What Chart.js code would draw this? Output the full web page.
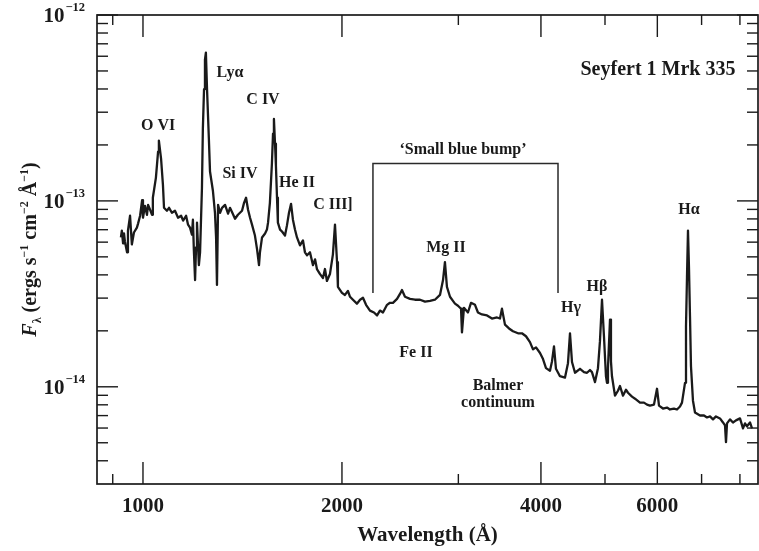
<!DOCTYPE html>
<html>
<head>
<meta charset="utf-8">
<script src="https://cdn.jsdelivr.net/npm/chart.js@4.4.0/dist/chart.umd.min.js"></script>
<style>
html,body{margin:0;padding:0;background:#fff;}
#wrap{width:759px;height:551px;position:relative;}
</style>
</head>
<body>
<div id="wrap"><canvas id="c"></canvas></div>
<script>
const wavelength = [926,929,933,936,939,946,949,956,962,969,979,983,990,997,1000,1007,1014,1018,1025,1032,1035,1046,1054,1057,1065,1072,1076,1087,1095,1106,1118,1130,1142,1150,1162,1170,1178,1186,1190,1194,1199,1203,1207,1215,1220,1228,1232,1237,1241,1245,1250,1258,1263,1276,1285,1290,1294,1299,1308,1317,1331,1345,1354,1363,1378,1392,1412,1422,1432,1442,1452,1462,1477,1488,1498,1503,1514,1530,1540,1546,1556,1567,1573,1578,1584,1589,1595,1600,1612,1623,1640,1651,1663,1675,1686,1698,1710,1728,1746,1758,1771,1789,1808,1821,1833,1853,1872,1885,1898,1918,1938,1952,1966,1972,2000,2021,2042,2057,2078,2107,2130,2152,2175,2205,2236,2260,2283,2307,2340,2364,2389,2423,2448,2465,2491,2535,2579,2625,2671,2718,2765,2814,2844,2863,2883,2914,2944,2965,2996,3028,3038,3059,3102,3135,3179,3212,3257,3315,3373,3432,3468,3492,3529,3579,3629,3693,3744,3797,3850,3891,3932,3987,4029,4071,4128,4157,4186,4215,4274,4349,4395,4426,4457,4504,4583,4647,4696,4745,4778,4829,4879,4913,4948,4982,5017,5035,5052,5088,5105,5123,5177,5231,5268,5323,5379,5417,5493,5551,5648,5727,5788,5848,5930,5993,6035,6119,6205,6270,6358,6425,6493,6538,6607,6630,6653,6676,6699,6723,6746,6793,6841,6961,7059,7133,7208,7284,7360,7463,7542,7595,7621,7648,7728,7809,7891,8002,8086,8143,8199,8286,8344];
const flux = [6.36e-14,6.92e-14,5.91e-14,6.68e-14,6.05e-14,5.29e-14,6.92e-14,8.32e-14,5.83e-14,6.76e-14,7.18e-14,7.55e-14,8.32e-14,1.01e-13,8.12e-14,9.41e-14,8.42e-14,9.52e-14,8.96e-14,8.42e-14,1.04e-13,1.33e-13,1.84e-13,2.11e-13,1.69e-13,1.22e-13,9.18e-14,8.85e-14,9.18e-14,8.63e-14,8.85e-14,8.12e-14,8.32e-14,7.83e-14,8.32e-14,7.45e-14,7.18e-14,6.59e-14,7.92e-14,5.42e-14,3.75e-14,5.62e-14,7.64e-14,4.51e-14,5.29e-14,1.17e-13,2.45e-13,3.99e-13,5.76e-13,6.28e-13,3.99e-13,2.16e-13,1.44e-13,1.13e-13,8.63e-14,6.36e-14,3.53e-14,9.52e-14,8.63e-14,9.18e-14,9.52e-14,8.53e-14,9.18e-14,8.74e-14,8.02e-14,8.42e-14,8.85e-14,9.76e-14,1.04e-13,8.96e-14,8.12e-14,7.45e-14,6.51e-14,5.49e-14,4.51e-14,5.29e-14,6.36e-14,6.68e-14,7.01e-14,7.64e-14,9.76e-14,1.59e-13,2.30e-13,2.76e-13,2.03e-13,1.55e-13,1.04e-13,7.64e-14,7.01e-14,6.84e-14,6.51e-14,7.36e-14,8.63e-14,9.64e-14,7.92e-14,7.01e-14,6.36e-14,5.76e-14,6.13e-14,5.29e-14,5.10e-14,5.29e-14,4.51e-14,4.85e-14,4.30e-14,4.04e-14,3.85e-14,4.30e-14,3.71e-14,4.04e-14,5.16e-14,7.45e-14,4.68e-14,3.45e-14,3.20e-14,3.12e-14,3.28e-14,3.05e-14,2.94e-14,2.80e-14,2.94e-14,3.01e-14,2.76e-14,2.57e-14,2.51e-14,2.42e-14,2.57e-14,2.51e-14,2.76e-14,2.83e-14,2.83e-14,2.97e-14,3.16e-14,3.32e-14,3.05e-14,2.97e-14,2.94e-14,2.94e-14,2.87e-14,2.90e-14,2.94e-14,3.12e-14,3.75e-14,4.68e-14,3.45e-14,3.05e-14,2.90e-14,2.80e-14,2.73e-14,2.63e-14,1.96e-14,2.66e-14,2.51e-14,2.83e-14,2.76e-14,2.51e-14,2.45e-14,2.42e-14,2.33e-14,2.36e-14,2.33e-14,2.63e-14,2.16e-14,2.06e-14,1.99e-14,1.94e-14,1.94e-14,1.87e-14,1.74e-14,1.59e-14,1.63e-14,1.52e-14,1.41e-14,1.26e-14,1.22e-14,1.37e-14,1.65e-14,1.25e-14,1.14e-14,1.12e-14,1.34e-14,1.94e-14,1.36e-14,1.19e-14,1.25e-14,1.20e-14,1.19e-14,1.23e-14,1.20e-14,1.06e-14,1.26e-14,1.76e-14,2.94e-14,1.87e-14,1.14e-14,1.05e-14,1.26e-14,2.30e-14,1.37e-14,1.14e-14,8.96e-15,9.52e-15,1.01e-14,8.96e-15,9.64e-15,9.29e-15,8.85e-15,8.63e-15,8.22e-15,8.22e-15,8.02e-15,7.92e-15,8.02e-15,9.76e-15,7.92e-15,7.64e-15,7.73e-15,7.55e-15,7.64e-15,7.55e-15,7.83e-15,8.22e-15,1.05e-14,2.11e-14,3.89e-14,6.92e-14,4.40e-14,2.39e-14,1.29e-14,8.42e-15,7.27e-15,7.01e-15,7.01e-15,6.84e-15,6.93e-15,6.68e-15,6.93e-15,6.76e-15,6.43e-15,6.20e-15,5.04e-15,6.36e-15,6.68e-15,6.43e-15,6.60e-15,6.76e-15,5.98e-15,6.36e-15,6.13e-15,6.43e-15,5.98e-15];

// 'Small blue bump' bracket (wavelength, flux)
const bracketWavelength = [2228, 2228, 4245, 4245];
const bracketFlux = [3.2e-14, 1.59e-13, 1.59e-13, 3.2e-14];

// axis ticks
const xTickLabels = [1000, 2000, 4000, 6000];
const xMinorTicks = [900, 3000, 5000, 7000, 8000];
const yTickValues = [1e-12, 1e-13, 1e-14];
const yTickExponents = ['\u221212', '\u221213', '\u221214'];
const yMinorTicks = [2e-13,3e-13,4e-13,5e-13,6e-13,7e-13,8e-13,9e-13,2e-14,3e-14,4e-14,5e-14,6e-14,7e-14,8e-14,9e-14,4e-15,5e-15,6e-15,7e-15,8e-15,9e-15];

// emission-line annotations (anchored in data units)
const lineLabels = ['O VI', 'Ly\u03b1', 'C IV', 'Si IV', 'He II', 'C III]', 'Mg II', 'Fe II', 'Balmer', 'continuum', 'H\u03b3', 'H\u03b2', 'H\u03b1'];
const lineLabelWavelength = [1054, 1354, 1519, 1402, 1710, 1938, 2873, 2588, 3444, 3444, 4441, 4862, 6699];
const lineLabelFlux = [2.54e-13, 4.9e-13, 3.5e-13, 1.39e-13, 1.25e-13, 9.5e-14, 5.6e-14, 1.52e-14, 1.01e-14, 8.2e-15, 2.67e-14, 3.44e-14, 8.96e-14];
const bumpLabel = '\u2018Small blue bump\u2019';
const bumpLabelAt = [3049, 1.89e-13];
const objectLabel = 'Seyfert 1 Mrk 335';
const objectLabelAt = [6013, 5.04e-13];

const INK = '#1a1a1a';
const SERIF = "'Liberation Serif', 'Times New Roman', 'DejaVu Serif', serif";

const framePlugin = {
  id: 'frame',
  afterDraw(chart) {
    const {ctx, chartArea: a, scales: {x, y}} = chart;
    ctx.save();
    ctx.strokeStyle = INK;
    ctx.lineWidth = 1.7;
    ctx.strokeRect(a.left, a.top, a.right - a.left, a.bottom - a.top);
    ctx.lineWidth = 1.4;
    const seg = (x1, y1, x2, y2) => { ctx.beginPath(); ctx.moveTo(x1, y1); ctx.lineTo(x2, y2); ctx.stroke(); };
    xTickLabels.forEach(v => { const p = x.getPixelForValue(v); seg(p, a.bottom, p, a.bottom - 22); seg(p, a.top, p, a.top + 22); });
    xMinorTicks.forEach(v => { const p = x.getPixelForValue(v); seg(p, a.bottom, p, a.bottom - 10); seg(p, a.top, p, a.top + 10); });
    yTickValues.forEach(v => { const p = y.getPixelForValue(v); seg(a.left, p, a.left + 21, p); seg(a.right, p, a.right - 21, p); });
    yMinorTicks.forEach(v => { const p = y.getPixelForValue(v); seg(a.left, p, a.left + 11, p); seg(a.right, p, a.right - 11, p); });

    // y tick labels: 10 with superscript exponent
    ctx.fillStyle = INK;
    ctx.textBaseline = 'middle';
    yTickValues.forEach((v, i) => {
      const p = y.getPixelForValue(v);
      ctx.font = 'bold 12.5px ' + SERIF;
      ctx.textAlign = 'right';
      const ew = ctx.measureText(yTickExponents[i]).width;
      ctx.fillText(yTickExponents[i], a.left - 12, p - 7);
      ctx.font = 'bold 21px ' + SERIF;
      ctx.fillText('10', a.left - 12 - ew - 1, p + 2);
    });

    // y axis title with italic F, subscript lambda, superscript exponents
    const parts = [
      {t: 'F', f: 'italic bold 20px ', dy: 0},
      {t: '\u03bb', f: 'bold 12px ', dy: 5},
      {t: ' (ergs s', f: 'bold 20px ', dy: 0},
      {t: '\u22121', f: 'bold 12px ', dy: -8},
      {t: ' cm', f: 'bold 20px ', dy: 0},
      {t: '\u22122', f: 'bold 12px ', dy: -8},
      {t: ' \u00c5', f: 'bold 20px ', dy: 0},
      {t: '\u22121', f: 'bold 12px ', dy: -8},
      {t: ')', f: 'bold 20px ', dy: 0}
    ];
    let total = 0;
    parts.forEach(pt => { ctx.font = pt.f + SERIF; pt.w = ctx.measureText(pt.t).width; total += pt.w; });
    ctx.save();
    ctx.translate(36, (a.top + a.bottom) / 2);
    ctx.rotate(-Math.PI / 2);
    ctx.textAlign = 'left';
    ctx.textBaseline = 'alphabetic';
    let cx = -total / 2;
    parts.forEach(pt => { ctx.font = pt.f + SERIF; ctx.fillText(pt.t, cx, pt.dy); cx += pt.w; });
    ctx.restore();

    // annotations
    ctx.textAlign = 'center';
    ctx.textBaseline = 'middle';
    ctx.font = 'bold 16px ' + SERIF;
    lineLabels.forEach((t, i) => {
      ctx.fillText(t, x.getPixelForValue(lineLabelWavelength[i]), y.getPixelForValue(lineLabelFlux[i]));
    });
    ctx.fillText(bumpLabel, x.getPixelForValue(bumpLabelAt[0]), y.getPixelForValue(bumpLabelAt[1]));
    ctx.font = 'bold 20px ' + SERIF;
    ctx.fillText(objectLabel, x.getPixelForValue(objectLabelAt[0]), y.getPixelForValue(objectLabelAt[1]));
    ctx.restore();
  }
};

new Chart(document.getElementById('c'), {
  type: 'line',
  data: {
    datasets: [
      {
        data: wavelength.map((w, i) => ({x: w, y: flux[i]})),
        borderColor: INK, borderWidth: 2.3, pointRadius: 0, tension: 0, fill: false,
        borderJoinStyle: 'round'
      },
      {
        data: bracketWavelength.map((w, i) => ({x: w, y: bracketFlux[i]})),
        borderColor: '#2a2a2a', borderWidth: 1.5, pointRadius: 0, tension: 0, fill: false
      }
    ]
  },
  options: {
    responsive: true,
    maintainAspectRatio: false,
    animation: false,
    events: [],
    layout: {padding: {top: 15, right: 1, left: 0, bottom: 0}},
    plugins: {legend: {display: false}, tooltip: {enabled: false}},
    scales: {
      x: {
        type: 'logarithmic', min: 852, max: 8520, position: 'bottom',
        grid: {display: false, drawTicks: false}, border: {display: false},
        afterBuildTicks: s => { s.ticks = xTickLabels.map(v => ({value: v})); },
        ticks: {autoSkip: false, maxRotation: 0, padding: 10, color: INK,
          font: {family: SERIF, size: 21, weight: 'bold'}, callback: v => String(v)},
        title: {display: true, text: 'Wavelength (\u00c5)', color: INK,
          font: {family: SERIF, size: 21, weight: 'bold'}, padding: {top: 0, bottom: 3}},
        afterFit: s => { s.height = 67; }
      },
      y: {
        type: 'logarithmic', min: 3.2e-15, max: 1e-12,
        grid: {display: false, drawTicks: false}, border: {display: false},
        ticks: {display: false},
        afterFit: s => { s.width = 97; }
      }
    }
  },
  plugins: [framePlugin]
});
</script>
</body>
</html>
